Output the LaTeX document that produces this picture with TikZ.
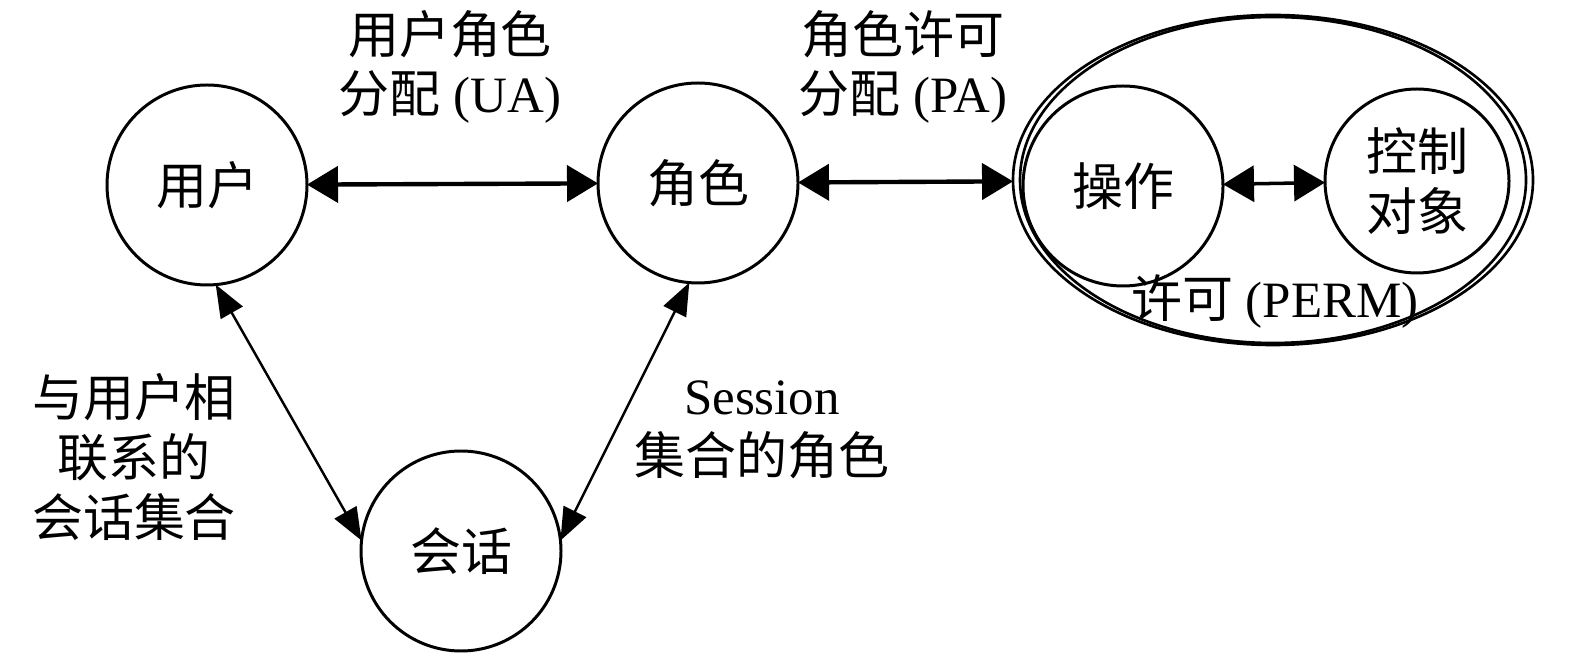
\documentclass[tikz,border=0pt]{standalone}
\usepackage{fontspec}
\setmainfont{Liberation Serif}
\newfontfamily\cjk{Noto Sans CJK SC}
\usetikzlibrary{arrows.meta,shapes.geometric}

\begin{document}
\begin{tikzpicture}[every node/.style={font=\fontsize{29}{34}\selectfont, align=center},
  ring/.style={circle, draw, line width=1.7pt, minimum size=4cm, inner sep=0pt, outer sep=0pt},
  link/.style={<->, >={Triangle[length=0.62cm,width=0.72cm]}, line width=2.5pt},
  slim/.style={<->, >={Triangle[length=0.65cm,width=0.5cm]}, line width=1.4pt}]
\useasboundingbox (0,0) rectangle (31.50,13.22);
\node[ellipse, draw, line width=1.5pt, minimum width=10.40cm, minimum height=6.60cm, inner sep=0pt, outer sep=0pt] (P) at (25.46,9.62) {};
\draw[line width=1.5pt] (P.center) ellipse [x radius=5.06cm, y radius=3.26cm];
\node[ring] (N1) at (4.14,9.52) {\cjk 用户};
\node[ring] (N2) at (13.96,9.56) {\cjk 角色};
\node[ring] (N3) at (9.22,2.20) {\cjk 会话};
\node[ring] (N4) at (22.46,9.50) {\cjk 操作};
\node[ring, minimum size=3.68cm] (N5) at (28.34,9.60) {\cjk 控制\\\cjk 对象};
\node (L1) at (9.00,11.88) {{\cjk 用户角色}\\{\cjk 分配} (UA)};
\node (L2) at (18.06,11.88) {{\cjk 角色许可}\\{\cjk 分配} (PA)};
\node (L3) at (25.50,7.18) {{\cjk 许可} (PERM)};
\node (L4) at (2.68,4.08) {\cjk 与用户相\\\cjk 联系的\\\cjk 会话集合};
\node (L5) at (15.24,4.62) {Session\\\cjk 集合的角色};
\draw[link] (N1) -- (N2);
\draw[link] (N2) -- (P);
\draw[link, line width=2pt] (N4) -- (N5);
\draw[slim] (N1.275) -- (N3.174);
\draw[slim] (N2.265) -- (N3.6);
\end{tikzpicture}
\end{document}
